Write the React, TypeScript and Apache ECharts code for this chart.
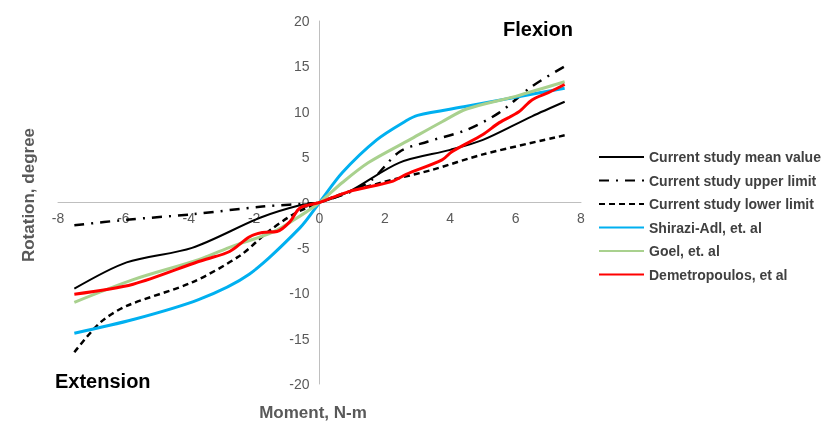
import React, { useEffect, useRef } from "react";
import * as echarts from "echarts";

const seriesNames = [
  "Current study mean value",
  "Current study upper limit",
  "Current study lower limit",
  "Shirazi-Adl, et. al",
  "Goel, et. al",
  "Demetropoulos, et al",
];

const meanValue: [number, number][] = [
  [-7.5, -9.5], [-5.9, -6.6], [-3.9, -5.0], [-1.8, -1.65], [-0.6, -0.3], [0, 0],
  [0.9, 1.2], [2.45, 4.4], [4.0, 5.8], [5.0, 6.9], [6.5, 9.5], [7.5, 11.1],
];
const upperLimit: [number, number][] = [
  [-7.5, -2.5], [-5.9, -1.9], [-3.9, -1.3], [-1.75, -0.45], [-0.1, -0.05], [0, 0],
  [0.9, 1.1], [1.6, 2.5], [2.45, 5.6], [3.3, 6.7], [4.5, 8.0], [5.5, 9.9], [6.5, 12.8], [7.5, 15.0],
];
const lowerLimit: [number, number][] = [
  [-7.5, -16.5], [-6.7, -13.2], [-5.9, -11.4], [-3.9, -8.8], [-2.45, -5.9], [-1.6, -3.3], [-0.8, -1.3], [0, 0],
  [0.9, 1.2], [2.45, 2.7], [3.45, 3.6], [5.0, 5.3], [7.5, 7.4],
];
const shirazi: [number, number][] = [
  [-7.5, -14.4], [-5.7, -12.9], [-3.7, -10.7], [-2.15, -7.9], [-0.6, -2.8], [0, 0],
  [0.7, 3.3], [1.75, 6.9], [2.65, 9.0], [3.0, 9.6], [4.5, 10.6], [6.0, 11.6], [7.5, 12.6],
];
const goel: [number, number][] = [
  [-7.5, -11.0], [-5.7, -8.5], [-3.7, -6.3], [-2.65, -4.8], [-1.45, -3.3], [-0.6, -1.5], [0, 0],
  [0.7, 2.2], [1.5, 4.4], [2.75, 6.9], [3.75, 8.9], [4.5, 10.3], [6.0, 11.7], [7.5, 13.3],
];
const demetropoulos: [number, number][] = [
  [-7.5, -10.1], [-5.7, -9.0], [-3.7, -6.5], [-2.75, -5.4], [-2.15, -3.8], [-1.75, -3.3], [-1.3, -3.2],
  [-0.9, -2.1], [-0.6, -0.6], [0, 0], [0.9, 1.2], [2.2, 2.3], [2.65, 3.1], [3.75, 4.7], [4.05, 5.6],
  [5.0, 7.5], [5.5, 8.8], [6.1, 10.0], [6.5, 11.3], [7.0, 12.1], [7.5, 13.0],
];

const FONT = "'Liberation Sans', Arial, sans-serif";

export default function App() {
  const ref = useRef<HTMLDivElement>(null);
  useEffect(() => {
    if (!ref.current) return;
    const chart = echarts.init(ref.current, undefined, { renderer: "svg" });
    const mk = (name: string, data: [number, number][], color: string, width: number, type: any) => ({
      name,
      type: "line",
      data,
      smooth: 0.3,
      symbol: "none",
      lineStyle: { color, width, type },
      itemStyle: { color },
    });
    chart.setOption({
      animation: false,
      textStyle: { fontFamily: FONT },
      grid: { left: 58, right: 251, top: 21, bottom: 39, containLabel: false },
      xAxis: {
        type: "value",
        min: -8,
        max: 8,
        interval: 2,
        offset: -181.5,
        axisLine: { onZero: false, lineStyle: { color: "#bfbfbf", width: 1 } },
        axisTick: { show: false },
        splitLine: { show: false },
        axisLabel: { color: "#595959", fontSize: 14, margin: 8 },
      },
      yAxis: {
        type: "value",
        min: -20,
        max: 20,
        interval: 5,
        offset: -261.5,
        axisLine: { show: true, onZero: false, lineStyle: { color: "#bfbfbf", width: 1 } },
        axisTick: { show: false },
        splitLine: { show: false },
        axisLabel: { color: "#595959", fontSize: 14, margin: 10 },
      },
      legend: {
        orient: "vertical",
        left: 598,
        top: 150,
        padding: 0,
        itemWidth: 45,
        itemHeight: 14,
        itemGap: 9.5,
        data: seriesNames,
        itemStyle: { opacity: 0 },
        textStyle: { color: "#404040", fontSize: 14, lineHeight: 14, fontWeight: "bold", fontFamily: FONT },
      },
      series: [
        mk(seriesNames[0], meanValue, "#000000", 2, "solid"),
        mk(seriesNames[1], upperLimit, "#000000", 2.5, [10, 7, 2, 7]),
        mk(seriesNames[2], lowerLimit, "#000000", 2.5, [6, 4]),
        mk(seriesNames[3], shirazi, "#00b0f0", 3, "solid"),
        mk(seriesNames[4], goel, "#a9d18e", 3, "solid"),
        mk(seriesNames[5], demetropoulos, "#ff0000", 3, "solid"),
      ],
      graphic: [
        {
          type: "text",
          x: 28,
          y: 195,
          rotation: Math.PI / 2,
          style: {
            text: "Rotation, degree",
            fill: "#595959",
            font: `bold 17px ${FONT}`,
            align: "center",
            verticalAlign: "middle",
          },
        },
        {
          type: "text",
          x: 313,
          y: 412,
          style: {
            text: "Moment, N-m",
            fill: "#595959",
            font: `bold 17px ${FONT}`,
            align: "center",
            verticalAlign: "middle",
          },
        },
        {
          type: "text",
          x: 503,
          y: 29,
          style: {
            text: "Flexion",
            fill: "#000000",
            font: `bold 20px ${FONT}`,
            align: "left",
            verticalAlign: "middle",
          },
        },
        {
          type: "text",
          x: 55,
          y: 381,
          style: {
            text: "Extension",
            fill: "#000000",
            font: `bold 20px ${FONT}`,
            align: "left",
            verticalAlign: "middle",
          },
        },
      ],
    });
    return () => chart.dispose();
  }, []);
  return <div ref={ref} style={{ width: 832, height: 423, position: "fixed", top: 0, left: 0 }} />;
}
